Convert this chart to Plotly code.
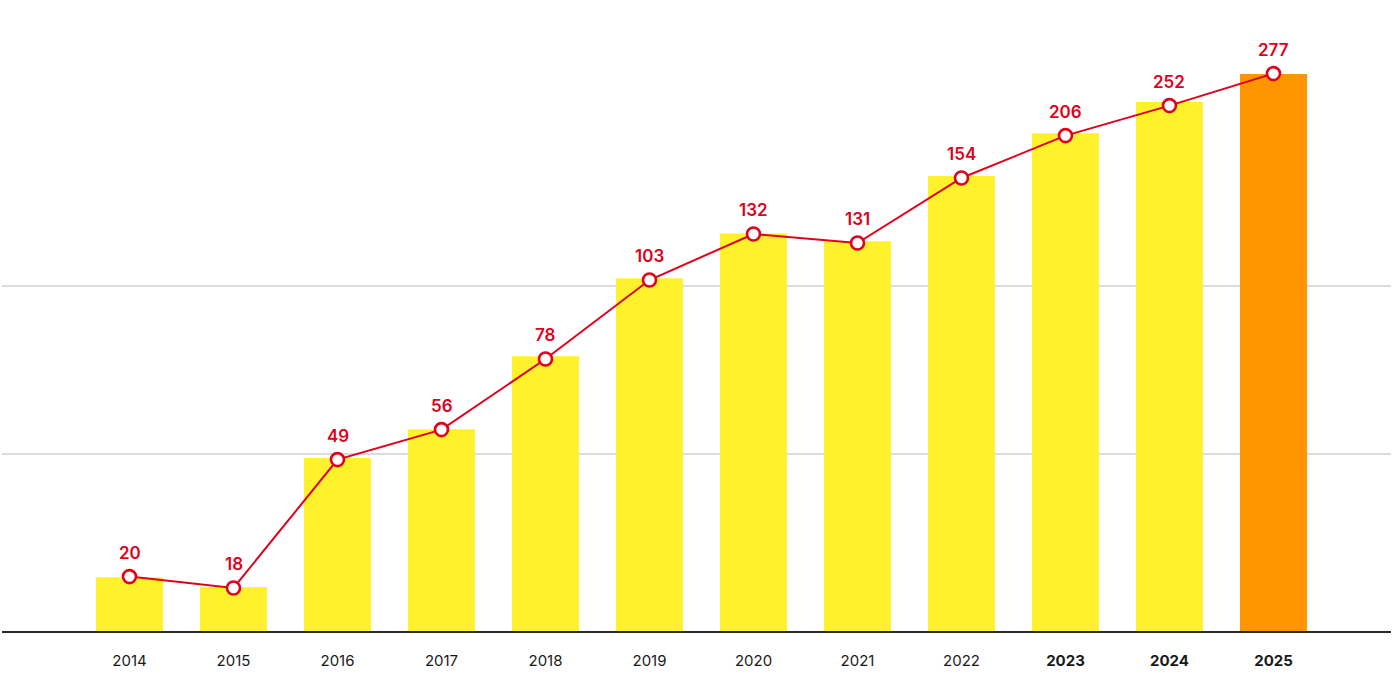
import plotly.graph_objects as go

years = ["2014", "2015", "2016", "2017", "2018", "2019", "2020", "2021", "2022", "2023", "2024", "2025"]
bar_values = [26.9, 22.0, 86.5, 100.9, 137.4, 176.4, 198.7, 194.9, 227.5, 248.9, 264.5, 278.5]
line_values = [27.2, 21.5, 85.7, 100.7, 136.0, 175.5, 198.5, 194.0, 226.5, 247.7, 262.7, 278.7]
line_labels = ["20", "18", "49", "56", "78", "103", "132", "131", "154", "206", "252", "277"]
bold_years = ["2023", "2024", "2025"]
grid_values = [88.5, 172.3]

YELLOW = "#FFF22D"
ORANGE = "#FF9500"
RED = "#E1001B"
FONT = "Inter"

bar_colors = [ORANGE if y == years[-1] else YELLOW for y in years]
tick_text = [f"<b>{y}</b>" if y in bold_years else y for y in years]

fig = go.Figure()
fig.add_trace(go.Bar(
    x=years, y=bar_values, marker=dict(color=bar_colors, line=dict(width=0)),
    width=0.645, hoverinfo="skip", showlegend=False,
))
fig.add_trace(go.Scatter(
    x=years, y=line_values, mode="lines+markers",
    line=dict(color=RED, width=2),
    marker=dict(symbol="circle", size=13, color="white", line=dict(color=RED, width=2.6)),
    showlegend=False, cliponaxis=False,
))

annotations = []
for i, (v, t) in enumerate(zip(line_values, line_labels)):
    annotations.append(dict(
        x=i, y=v, xref="x", yref="y", text=t, showarrow=False, yshift=24,
        xanchor="center", yanchor="middle",
        font=dict(family=FONT, size=17, color=RED, weight=600),
    ))

fig.update_layout(
    width=1400, height=700,
    margin=dict(l=2, r=9, t=0, b=69),
    paper_bgcolor="white", plot_bgcolor="white",
    annotations=annotations,
    xaxis=dict(
        type="category", range=[-1.226, 12.13],
        tickvals=years, ticktext=tick_text,
        showline=True, linecolor="#2a2a2a", linewidth=2,
        ticks="outside", ticklen=15, tickcolor="rgba(0,0,0,0)",
        tickfont=dict(family=FONT, size=15, color="#1a1a1a"),
        showgrid=False, fixedrange=True,
    ),
    yaxis=dict(
        range=[0, 315.5], tickvals=grid_values, showticklabels=False,
        showgrid=True, gridcolor="#DCDCDC", gridwidth=1.5,
        zeroline=False, showline=False, fixedrange=True,
    ),
)

fig.write_html(
    "out.html",
    config={"displayModeBar": False},
    post_script="document.body.style.margin='0';document.body.style.padding='0';",
)
